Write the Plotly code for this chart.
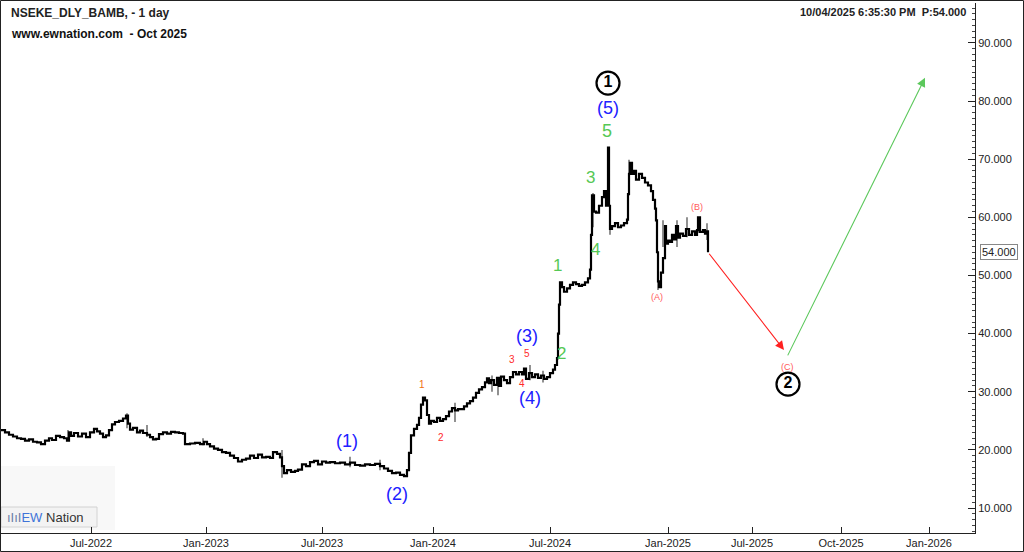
import plotly.graph_objects as go

# ---- data (x = session index on the chart's own bar axis, y = price) ----
bar_x = [
    1, 5, 9, 13, 17, 21, 25, 29, 33, 37, 41, 45, 49, 52, 56, 60, 64, 67, 69, 71,
    74, 78, 82, 86, 90, 94, 97, 100, 103, 106, 109, 112, 115, 119, 123, 126, 128, 130, 133, 137,
    140, 143, 147, 150, 153, 156, 159, 163, 167, 171, 175, 179, 183, 185, 190, 195, 200, 204, 207, 210,
    214, 218, 222, 226, 230, 234, 238, 242, 246, 250, 254, 258, 262, 266, 270, 273, 277, 280, 282, 284,
    287, 291, 295, 298, 302, 306, 310, 314, 318, 322, 326, 330, 335, 340, 345, 350, 355, 360, 365, 370,
    375, 380, 384, 388, 392, 396, 400, 404, 407, 409, 411, 414, 417, 419, 421, 423, 425, 427, 429, 431,
    434, 437, 440, 443, 446, 449, 452, 455, 458, 461, 464, 467, 470, 473, 476, 479, 482, 485, 487, 489,
    491, 494, 497, 499, 501, 504, 507, 510, 513, 516, 519, 522, 524, 526, 529, 532, 535, 538, 541, 544,
    547, 550, 553, 555, 557, 558, 559, 560, 562, 564, 567, 570, 573, 576, 579, 582, 585, 588, 590, 591,
    592, 594, 596, 599, 602, 604, 606, 607, 608, 609, 610, 612, 615, 618, 621, 624, 627, 628, 629, 630,
    632, 634, 636, 639, 642, 645, 648, 651, 653, 655, 656, 657, 658, 659, 661, 663, 665, 666, 668, 670,
    672, 674, 676, 678, 680, 683, 686, 689, 692, 695, 697, 698, 700, 703, 705, 707, 708,
]
bar_price = [
    23.4, 23.0, 22.6, 22.3, 22.0, 21.9, 21.6, 21.8, 21.4, 21.3, 21.0, 21.6, 22.0, 21.7, 22.4, 22.2, 22.0, 21.6, 23.0, 22.4,
    22.9, 22.3, 22.8, 22.2, 23.0, 23.6, 23.2, 22.8, 22.2, 22.5, 23.4, 24.4, 24.8, 25.0, 25.4, 25.9, 24.5, 23.5, 23.8, 23.0,
    23.3, 22.9, 22.6, 22.2, 21.8, 21.9, 22.7, 23.0, 22.8, 23.1, 23.0, 22.9, 22.8, 21.0, 21.1, 21.2, 21.0, 21.4, 21.0, 20.6,
    20.2, 20.0, 19.6, 19.5, 19.0, 18.6, 18.0, 18.3, 18.5, 19.0, 18.6, 19.2, 18.7, 18.8, 18.6, 19.6, 19.3, 18.7, 17.2, 16.0,
    16.5, 16.2, 16.4, 16.6, 17.5, 17.2, 17.9, 18.1, 17.5, 18.0, 17.8, 17.9, 17.7, 17.8, 17.5, 17.8, 17.4, 17.3, 17.5, 17.4,
    17.6, 17.2, 16.8, 16.4, 16.0, 16.1, 15.7, 15.5, 16.5, 19.5, 22.5, 23.6, 24.3, 25.5, 27.8, 29.0, 28.5, 26.0, 24.5, 25.0,
    24.8, 25.5, 25.0, 25.3, 25.8, 26.6, 27.2, 26.8, 27.0, 27.0, 27.5, 28.0, 28.4, 29.0, 29.8, 30.4, 30.8, 31.6, 32.3, 31.5,
    32.0, 31.2, 32.4, 31.0, 32.6, 32.0, 31.5, 32.5, 33.4, 33.0, 33.4, 33.0, 34.0, 32.2, 33.2, 32.5, 33.0, 32.4, 32.8, 32.2,
    32.5, 33.2, 33.8, 34.6, 35.8, 40.0, 45.0, 48.8, 48.0, 47.2, 47.8, 48.4, 48.8, 48.5, 48.2, 48.4, 48.8, 49.5, 51.0, 57.0,
    63.8, 61.0, 60.8, 62.0, 63.5, 64.5, 62.0, 63.0, 72.0, 62.0, 58.0, 58.5, 59.0, 58.3, 58.6, 59.0, 59.6, 64.0, 67.5, 69.4,
    67.5, 68.0, 66.5, 67.5, 66.8, 66.0, 65.5, 64.5, 63.0, 61.5, 59.5, 54.0, 49.0, 48.0, 50.5, 53.0, 58.5, 55.5, 56.0, 55.8,
    57.0, 56.2, 58.5, 56.5, 57.2, 56.8, 58.0, 57.0, 57.6, 57.0, 57.8, 60.0, 57.5, 57.8, 57.2, 57.6, 54.0,
]

# intraday high/low wicks that stand out from the close line
spike_x = [68, 127, 147, 203, 282, 350, 380, 455, 492, 498, 530, 543,
           593, 610, 629, 658, 663, 677, 687, 698, 707]
spike_low = [21.7, 23.7, 22.2, 20.8, 15.2, 17.0, 16.5, 24.8, 30.0, 29.4, 32.0, 31.6,
             58.3, 57.0, 64.2, 47.5, 54.9, 54.9, 56.6, 57.3, 56.1]
spike_high = [23.4, 26.3, 24.3, 22.0, 20.0, 18.8, 18.3, 28.1, 32.8, 32.5, 34.6, 33.6,
              64.2, 60.0, 69.9, 51.5, 59.5, 59.5, 60.0, 60.0, 59.0]

last_price = 54.0

# projected path: end of wave (C) and target
proj_c_x, proj_c_price = 784, 37.2
proj_up_start_x, proj_up_start_price = 787, 36.0
proj_up_end_x, proj_up_end_price = 925, 84.0

tick_pos = [91, 206, 322, 433, 550, 668, 752, 841, 929]
tick_text = ["Jul-2022", "Jan-2023", "Jul-2023", "Jan-2024", "Jul-2024",
             "Jan-2025", "Jul-2025", "Oct-2025", "Jan-2026"]
price_ticks = [10, 20, 30, 40, 50, 60, 70, 80, 90]

# ---- layout helpers ----
W, H = 1024, 552
L, R, T, B = 1, 49, 3, 19
PW, PH = W - L - R, H - T - B


def pxp(x):
    return (x - L) / PW


def pyp(y):
    return (H - B - y) / PH


FONT = "Arial, Liberation Sans, sans-serif"
BLUE = "#2020ff"
GREEN = "#55c855"
RED = "#ff2a2a"
PINK = "#ff5a5a"

fig = go.Figure()

wick_x, wick_y = [], []
for x, lo, hi in zip(spike_x, spike_low, spike_high):
    wick_x += [x, x, None]
    wick_y += [lo, hi, None]
fig.add_trace(go.Scatter(
    x=wick_x, y=wick_y, mode="lines",
    line=dict(color="#555", width=1.3),
    hoverinfo="skip", showlegend=False,
))

fig.add_trace(go.Scatter(
    x=bar_x, y=bar_price, mode="lines",
    line=dict(color="black", width=2.2, shape="hv"),
    hoverinfo="skip", showlegend=False,
))

# circled wave degree markers
circles = [(608, 83.1, "1"), (788, 31.3, "2")]
fig.add_trace(go.Scatter(
    x=[c[0] for c in circles], y=[c[1] for c in circles],
    text=["<b>%s</b>" % c[2] for c in circles],
    mode="markers+text", textposition="middle center",
    textfont=dict(family=FONT, size=16, color="black"),
    marker=dict(symbol="circle", size=23, color="white",
                line=dict(color="black", width=2.2)),
    hoverinfo="skip", showlegend=False,
))

annotations = []

# wave labels: (x, price, text, color, size)
wave_labels = [
    (608, 78.8, "(5)", BLUE, 18),
    (607, 74.9, "5", GREEN, 18),
    (590, 66.9, "3", GREEN, 17),
    (595, 54.4, "4", GREEN, 17),
    (557, 51.8, "1", GREEN, 17),
    (561, 36.6, "2", GREEN, 17),
    (527, 39.6, "(3)", BLUE, 18),
    (530, 28.9, "(4)", BLUE, 18),
    (347, 21.5, "(1)", BLUE, 18),
    (397, 12.4, "(2)", BLUE, 18),
    (527, 36.6, "5", RED, 10),
    (512, 35.6, "3", RED, 10),
    (522, 31.4, "4", RED, 10),
    (422, 31.3, "1", "#f07010", 10),
    (441, 22.2, "2", RED, 10),
    (657, 46.3, "(A)", PINK, 9),
    (697, 61.8, "(B)", PINK, 9),
    (787, 34.2, "(C)", PINK, 9),
]
for x, y, t, c, s in wave_labels:
    annotations.append(dict(x=x, y=y, xref="x", yref="y", text=t, showarrow=False,
                            font=dict(family=FONT, size=s, color=c)))

# projection arrows
annotations.append(dict(x=proj_c_x, y=proj_c_price, ax=bar_x[-1], ay=last_price,
                        xref="x", yref="y", axref="x", ayref="y", text="",
                        showarrow=True, arrowhead=2, arrowsize=1.6, arrowwidth=1.1,
                        arrowcolor="#ff2020"))
annotations.append(dict(x=proj_up_end_x, y=proj_up_end_price,
                        ax=proj_up_start_x, ay=proj_up_start_price,
                        xref="x", yref="y", axref="x", ayref="y", text="",
                        showarrow=True, arrowhead=2, arrowsize=1.6, arrowwidth=1.1,
                        arrowcolor="#5cc85c"))

# header texts
annotations += [
    dict(x=pxp(9), y=pyp(13), xref="paper", yref="paper", xanchor="left", yanchor="middle",
         text="<b>NSEKE_DLY_BAMB, - 1 day</b>", showarrow=False,
         font=dict(family=FONT, size=12, color="#222")),
    dict(x=pxp(9), y=pyp(34), xref="paper", yref="paper", xanchor="left", yanchor="middle",
         text="<b>www.ewnation.com  - Oct 2025</b>", showarrow=False,
         font=dict(family=FONT, size=12, color="#111")),
    dict(x=pxp(968), y=pyp(12), xref="paper", yref="paper", xanchor="right", yanchor="middle",
         text="<b>10/04/2025 6:35:30 PM  P:54.000</b>", showarrow=False,
         font=dict(family=FONT, size=11, color="#222")),
    dict(x=1, y=last_price, xref="paper", yref="y", xanchor="left", yanchor="middle",
         xshift=5, text="54.000", showarrow=False, bgcolor="white",
         bordercolor="#888", borderwidth=1, borderpad=1,
         font=dict(family=FONT, size=11, color="#222")),
    dict(x=pxp(5), y=pyp(517), xref="paper", yref="paper", xanchor="left", yanchor="middle",
         text="<span style='color:#6b7fa8'>ıIıI</span><span style='color:#3f74d8'>EW</span>"
              "<span style='color:#333'> Nation</span>",
         showarrow=False, font=dict(family=FONT, size=13)),
]

shapes = [
    # logo backdrop
    dict(type="rect", xref="paper", yref="paper", layer="below",
         x0=pxp(0), x1=pxp(115), y0=pyp(530), y1=pyp(466),
         fillcolor="#f8f8f8", line=dict(width=0)),
    dict(type="rect", xref="paper", yref="paper", layer="below",
         x0=pxp(1), x1=pxp(97), y0=pyp(527), y1=pyp(507),
         fillcolor="#f3f3f3", line=dict(color="#d2d2d2", width=1)),
    # outer frame
    dict(type="rect", xref="paper", yref="paper",
         x0=pxp(0.5), x1=pxp(1023.5), y0=pyp(551.5), y1=pyp(0.5),
         line=dict(color="#222", width=1)),
]

fig.update_layout(
    width=W, height=H,
    margin=dict(l=L, r=R, t=T, b=B),
    paper_bgcolor="white", plot_bgcolor="white",
    showlegend=False,
    annotations=annotations,
    shapes=shapes,
    font=dict(family=FONT, size=11, color="#222"),
)

fig.update_xaxes(
    range=[L, L + PW], showgrid=False, zeroline=False,
    tickmode="array", tickvals=tick_pos, ticktext=tick_text,
    ticks="inside", ticklen=6, tickcolor="#222",
    showline=True, linecolor="#222", linewidth=1,
    tickfont=dict(family=FONT, size=11, color="#222"),
)
fig.update_yaxes(
    range=[5.70, 96.88], side="right", showgrid=False, zeroline=False,
    tickmode="array", tickvals=price_ticks,
    ticktext=["%.3f" % v for v in price_ticks],
    ticks="inside", ticklen=7, tickcolor="#222",
    minor=dict(dtick=1, ticks="inside", ticklen=3, tickcolor="#444"),
    showline=True, linecolor="#222", linewidth=1,
    tickfont=dict(family=FONT, size=11, color="#222"),
)

# the page is photographed edge to edge, so drop the browser's default body margin
fig.write_html("out.html", config={"displayModeBar": False},
               post_script="document.body.style.margin='0';")
